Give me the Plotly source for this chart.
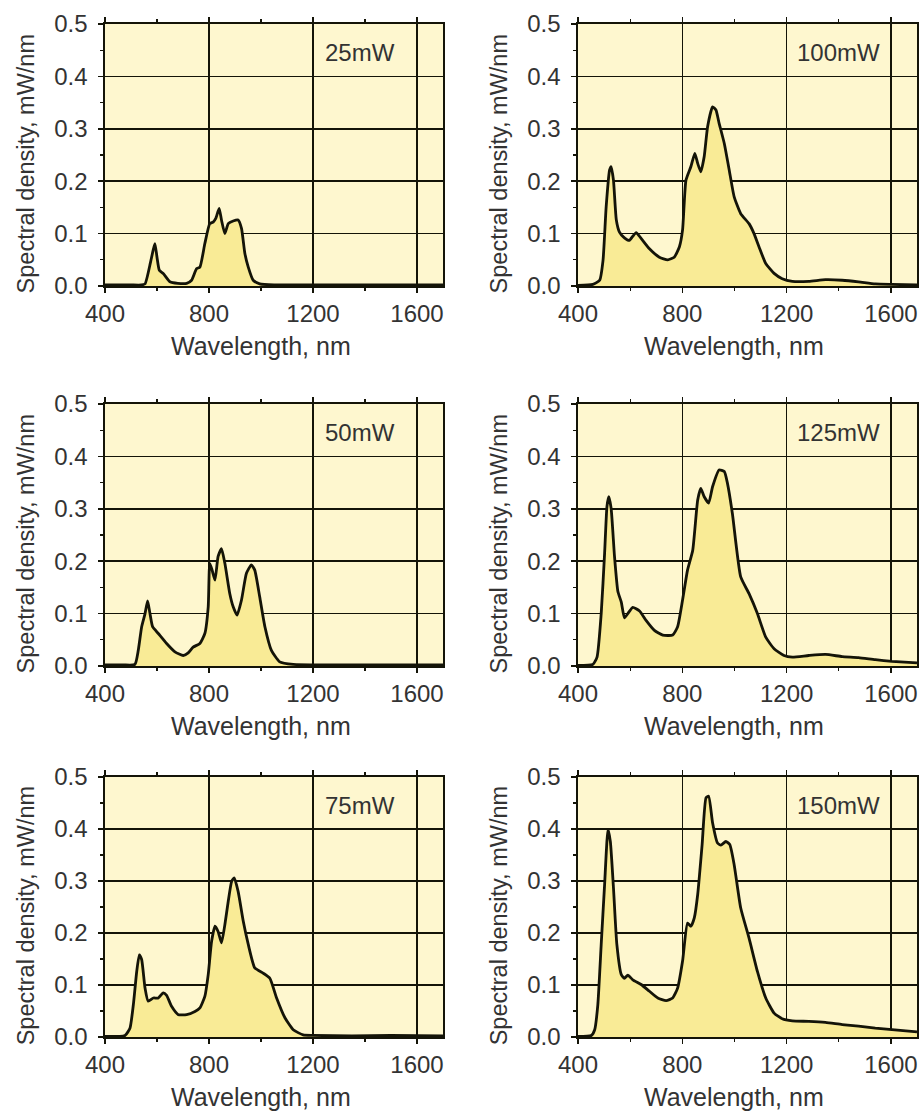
import plotly.graph_objects as go

# ---------------- data ----------------
labels = ["25mW", "100mW", "50mW", "125mW", "75mW", "150mW"]

wl_25 = [400, 450, 500, 540, 554, 575, 585, 592, 600, 609, 624, 650, 680, 714, 733, 752, 765, 784, 803, 816, 826, 839, 848, 861, 874, 893, 912, 925, 938, 951, 970, 995, 1050, 1150, 1300, 1450, 1600, 1700]
sd_25 = [0.002, 0.002, 0.002, 0.002, 0.004, 0.045, 0.068, 0.081, 0.055, 0.030, 0.024, 0.008, 0.005, 0.005, 0.011, 0.033, 0.036, 0.081, 0.119, 0.122, 0.129, 0.148, 0.126, 0.100, 0.119, 0.124, 0.126, 0.110, 0.062, 0.036, 0.011, 0.004, 0.002, 0.002, 0.002, 0.002, 0.002, 0.002]

wl_100 = [400, 457, 483, 496, 508, 521, 527, 536, 547, 559, 578, 597, 610, 623, 642, 674, 712, 744, 769, 789, 801, 814, 833, 848, 859, 871, 884, 897, 916, 929, 941, 961, 980, 999, 1024, 1056, 1075, 1094, 1120, 1152, 1183, 1222, 1285, 1349, 1413, 1476, 1540, 1604, 1700]
sd_100 = [0.001, 0.003, 0.011, 0.049, 0.151, 0.221, 0.228, 0.202, 0.126, 0.103, 0.092, 0.087, 0.095, 0.102, 0.091, 0.071, 0.055, 0.050, 0.055, 0.075, 0.107, 0.202, 0.228, 0.253, 0.234, 0.218, 0.247, 0.304, 0.342, 0.336, 0.311, 0.272, 0.221, 0.170, 0.138, 0.119, 0.100, 0.075, 0.043, 0.024, 0.014, 0.009, 0.009, 0.012, 0.011, 0.008, 0.004, 0.003, 0.002]

wl_50 = [400, 470, 515, 528, 541, 554, 564, 573, 583, 605, 637, 669, 701, 720, 739, 765, 784, 797, 803, 812, 823, 835, 848, 861, 880, 893, 908, 925, 944, 963, 976, 995, 1015, 1040, 1072, 1124, 1250, 1400, 1550, 1700]
sd_50 = [0.002, 0.002, 0.003, 0.030, 0.075, 0.100, 0.124, 0.100, 0.075, 0.062, 0.043, 0.027, 0.020, 0.025, 0.036, 0.043, 0.062, 0.113, 0.196, 0.183, 0.164, 0.209, 0.224, 0.196, 0.138, 0.113, 0.097, 0.126, 0.177, 0.193, 0.183, 0.132, 0.075, 0.030, 0.008, 0.003, 0.002, 0.002, 0.002, 0.002]

wl_125 = [400, 457, 473, 489, 502, 511, 518, 527, 540, 553, 566, 578, 591, 610, 636, 661, 693, 725, 763, 782, 801, 820, 840, 859, 871, 884, 901, 916, 941, 961, 973, 992, 1024, 1056, 1088, 1120, 1152, 1190, 1222, 1285, 1349, 1413, 1476, 1540, 1604, 1700]
sd_125 = [0.001, 0.003, 0.017, 0.100, 0.215, 0.304, 0.323, 0.301, 0.209, 0.142, 0.122, 0.092, 0.100, 0.112, 0.105, 0.087, 0.068, 0.059, 0.059, 0.075, 0.126, 0.183, 0.221, 0.317, 0.339, 0.323, 0.311, 0.342, 0.374, 0.371, 0.349, 0.291, 0.170, 0.138, 0.100, 0.055, 0.033, 0.020, 0.017, 0.020, 0.022, 0.018, 0.016, 0.012, 0.009, 0.006]

wl_75 = [400, 477, 496, 509, 522, 532, 541, 554, 566, 586, 605, 624, 637, 656, 682, 714, 746, 765, 784, 797, 810, 823, 835, 848, 861, 874, 887, 897, 912, 932, 951, 976, 1008, 1034, 1060, 1092, 1124, 1162, 1200, 1350, 1500, 1700]
sd_75 = [0.001, 0.003, 0.017, 0.062, 0.126, 0.158, 0.149, 0.094, 0.069, 0.075, 0.075, 0.085, 0.080, 0.059, 0.043, 0.043, 0.049, 0.056, 0.078, 0.120, 0.184, 0.213, 0.203, 0.181, 0.216, 0.261, 0.299, 0.306, 0.280, 0.222, 0.178, 0.133, 0.123, 0.113, 0.075, 0.037, 0.014, 0.004, 0.003, 0.002, 0.003, 0.002]

wl_150 = [400, 451, 464, 476, 489, 502, 515, 524, 536, 549, 566, 578, 591, 610, 642, 674, 706, 738, 763, 782, 801, 820, 833, 846, 859, 876, 891, 901, 916, 935, 948, 967, 982, 999, 1024, 1056, 1088, 1120, 1152, 1183, 1222, 1285, 1349, 1413, 1476, 1540, 1604, 1700]
sd_150 = [0.001, 0.003, 0.014, 0.062, 0.178, 0.293, 0.399, 0.376, 0.287, 0.178, 0.120, 0.113, 0.119, 0.110, 0.101, 0.088, 0.075, 0.070, 0.075, 0.094, 0.146, 0.219, 0.213, 0.229, 0.274, 0.370, 0.460, 0.463, 0.412, 0.373, 0.369, 0.376, 0.370, 0.331, 0.248, 0.190, 0.126, 0.075, 0.046, 0.035, 0.031, 0.030, 0.028, 0.024, 0.021, 0.017, 0.014, 0.010]

series = [(wl_25, sd_25), (wl_100, sd_100), (wl_50, sd_50), (wl_125, sd_125), (wl_75, sd_75), (wl_150, sd_150)]

x_tick_vals = [400, 800, 1200, 1600]
y_tick_vals = [0.0, 0.1, 0.2, 0.3, 0.4, 0.5]
x_title = "Wavelength, nm"
y_title = "Spectral density, mW/nm"

# ---------------- layout ----------------
W, H = 921, 1115
col_px = [(105, 443), (578, 917)]
row_px = [(24, 286), (404, 666), (777, 1037)]

BG = "#FEF7CF"
FILL = "#F9EB96"
LINE = "#141408"
TXT = "#333333"
FONT = "Liberation Sans, Arial, sans-serif"

fig = go.Figure()
layout = dict(
    width=W, height=H, autosize=False,
    margin=dict(l=0, r=0, t=0, b=0),
    paper_bgcolor="white", plot_bgcolor=BG,
    showlegend=False, template="none",
    font=dict(family=FONT, color=TXT, size=24),
)
annotations = []
for i, (wl, sd) in enumerate(series):
    r, c = divmod(i, 2)
    n = "" if i == 0 else str(i + 1)
    xa, ya = "x" + n, "y" + n
    fig.add_trace(go.Scatter(
        x=wl, y=sd, xaxis=xa, yaxis=ya, mode="lines",
        line=dict(color=LINE, width=2.8, shape="spline", smoothing=0.5),
        fill="tozeroy", fillcolor=FILL, hoverinfo="skip",
    ))
    x0, x1 = col_px[c]
    y0, y1 = row_px[r]
    layout["xaxis" + n] = dict(
        domain=[x0 / W, x1 / W], anchor=ya, range=[400, 1700],
        tickvals=x_tick_vals, ticks="outside", ticklen=5, tickwidth=1.5, tickcolor=LINE,
        showline=True, linecolor=LINE, linewidth=1.7, mirror="ticks",
        showgrid=True, gridcolor=LINE, gridwidth=1.5, zeroline=False,
        tickfont=dict(family=FONT, size=24, color=TXT), ticklabelstandoff=0,
        minor=dict(dtick=200, tick0=400, ticks="outside", ticklen=3, tickcolor=LINE, tickwidth=1.2, showgrid=False),
        automargin=False, fixedrange=True,
    )
    layout["yaxis" + n] = dict(
        domain=[1 - y1 / H, 1 - y0 / H], anchor=xa, range=[0, 0.5],
        tickvals=y_tick_vals, tickformat=".1f", ticks="outside", ticklen=5, tickwidth=1.5, tickcolor=LINE,
        showline=True, linecolor=LINE, linewidth=1.7, mirror=True,
        showgrid=True, gridcolor=LINE, gridwidth=1.5, zeroline=False,
        tickfont=dict(family=FONT, size=24, color=TXT), ticklabelstandoff=6,
        minor=dict(dtick=0.05, tick0=0, ticks="outside", ticklen=3, tickcolor=LINE, tickwidth=1.2, showgrid=False),
        automargin=False, fixedrange=True,
    )
    annotations.append(dict(
        text=labels[i], xref=xa, yref=ya, x=1380 if c == 0 else 1400, y=0.445,
        showarrow=False, font=dict(family=FONT, size=24, color=TXT),
        xanchor="center", yanchor="middle",
    ))
    annotations.append(dict(
        text=x_title, xref=xa, yref=ya + " domain", x=1000, y=0, yshift=-44,
        showarrow=False, font=dict(family=FONT, size=25, color=TXT),
        xanchor="center", yanchor="top",
    ))
    annotations.append(dict(
        text=y_title, xref=xa + " domain", yref=ya, x=0, xshift=-79, y=0.232,
        showarrow=False, font=dict(family=FONT, size=23.5, color=TXT), textangle=-90,
        xanchor="center", yanchor="middle",
    ))

layout["annotations"] = annotations
fig.update_layout(**layout)
fig.write_html(
    "out.html",
    config={"displayModeBar": False, "staticPlot": True},
    post_script="document.body.style.margin='0';document.body.style.overflow='hidden';",
)
